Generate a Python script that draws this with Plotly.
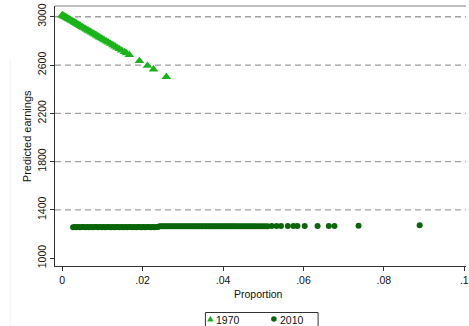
import plotly.graph_objects as go

# Predicted earnings against occupational proportion, two census years
years = ["1970", "2010"]

prop_1970 = [0.0000, 0.0002, 0.0004, 0.0006, 0.0008, 0.0010, 0.0012, 0.0014, 0.0016, 0.0018,
             0.0021, 0.0024, 0.0027, 0.0030, 0.0033, 0.0036, 0.0039, 0.0042, 0.0045, 0.0049,
             0.0053, 0.0057, 0.0061, 0.0065, 0.0069, 0.0073, 0.0077, 0.0081, 0.0085, 0.0089,
             0.0093, 0.0097, 0.0101, 0.0105, 0.0110, 0.0115, 0.0120, 0.0126, 0.0131, 0.0136,
             0.0142, 0.0148, 0.0155, 0.0160, 0.0167, 0.0192, 0.0212, 0.0227, 0.0259]
earn_1970 = [3014, 3010, 3006, 3002, 2998, 2994, 2990, 2986, 2982, 2978,
             2972, 2967, 2961, 2955, 2949, 2943, 2937, 2931, 2925, 2917,
             2909, 2901, 2893, 2885, 2878, 2870, 2862, 2854, 2846, 2838,
             2830, 2822, 2814, 2806, 2797, 2787, 2777, 2765, 2755, 2745,
             2733, 2721, 2708, 2698, 2684, 2634, 2595, 2565, 2502]

prop_2010 = [0.0027, 0.0031, 0.0035, 0.0040, 0.0044, 0.0049, 0.0053, 0.0058, 0.0062, 0.0067,
             0.0071, 0.0076, 0.0080, 0.0085, 0.0089, 0.0094, 0.0098, 0.0103, 0.0107, 0.0112,
             0.0116, 0.0121, 0.0125, 0.0130, 0.0134, 0.0139, 0.0143, 0.0148, 0.0152, 0.0157,
             0.0161, 0.0166, 0.0170, 0.0175, 0.0179, 0.0184, 0.0188, 0.0193, 0.0197, 0.0202,
             0.0206, 0.0211, 0.0215, 0.0220, 0.0224, 0.0229, 0.0233, 0.0238,
             0.0242, 0.0247, 0.0251, 0.0256, 0.0260, 0.0265, 0.0269, 0.0274, 0.0278, 0.0283,
             0.0287, 0.0292, 0.0296, 0.0301, 0.0305, 0.0310, 0.0314, 0.0319, 0.0323, 0.0328,
             0.0332, 0.0337, 0.0341, 0.0346, 0.0350, 0.0355, 0.0359, 0.0364, 0.0368, 0.0373,
             0.0377, 0.0382, 0.0386, 0.0391, 0.0395, 0.0400, 0.0404, 0.0409, 0.0413, 0.0418,
             0.0422, 0.0427, 0.0431, 0.0436, 0.0441, 0.0446, 0.0451, 0.0456, 0.0461, 0.0466,
             0.0471, 0.0476, 0.0481, 0.0487, 0.0493, 0.0499, 0.0505, 0.0511,
             0.0521, 0.0533, 0.0544, 0.0561, 0.0575, 0.0585, 0.0603, 0.0635, 0.0663, 0.0677,
             0.0737, 0.0889]
earn_2010 = [1257, 1258, 1257, 1258, 1257, 1258, 1258, 1257, 1258, 1257,
             1258, 1257, 1258, 1258, 1257, 1258, 1257, 1258, 1257, 1258,
             1258, 1257, 1258, 1257, 1258, 1258, 1257, 1258, 1257, 1258,
             1257, 1258, 1258, 1257, 1258, 1257, 1258, 1258, 1257, 1258,
             1257, 1258, 1258, 1257, 1258, 1257, 1258, 1258,
             1265, 1264, 1265, 1265, 1264, 1265, 1265, 1264, 1265, 1265,
             1264, 1265, 1265, 1264, 1265, 1265, 1264, 1265, 1265, 1264,
             1265, 1265, 1264, 1265, 1265, 1264, 1265, 1265, 1264, 1265,
             1265, 1264, 1265, 1265, 1264, 1265, 1265, 1264, 1265, 1265,
             1264, 1265, 1265, 1264, 1265, 1265, 1264, 1265, 1265, 1264,
             1265, 1265, 1264, 1265, 1265, 1265, 1265, 1265,
             1266, 1266, 1266, 1266, 1266, 1266, 1266, 1267, 1267, 1267,
             1268, 1273]

x_ticks = [0, 0.02, 0.04, 0.06, 0.08, 0.1]
x_tick_text = ["0", ".02", ".04", ".06", ".08", ".1"]
y_ticks = [1000, 1400, 1800, 2200, 2600, 3000]
grid_vals = y_ticks[1:]

c1970 = "#19b419"
c2010 = "#0a650a"
font = "Liberation Sans, Arial, Helvetica, sans-serif"

fig = go.Figure()
fig.add_trace(go.Scatter(
    x=prop_1970, y=earn_1970, mode="markers", name=years[0],
    marker=dict(symbol="triangle-up", size=8.5, color=c1970, line=dict(width=0)),
    cliponaxis=False,
))
fig.add_trace(go.Scatter(
    x=prop_2010, y=earn_2010, mode="markers", name=years[1],
    marker=dict(symbol="circle", size=6, color=c2010, line=dict(width=0)),
    cliponaxis=False,
))

# plot-area geometry in pixels (used for the hand-built legend box)
W, H = 469, 326
ML, MT, MB = 55, 6, 60
PW, PH = W - ML, H - MT - MB


def px_x(p):
    return (p - ML) / PW


def px_y(p):
    return (H - MB - p) / PH


shapes = []
for v in grid_vals:
    shapes.append(dict(type="line", xref="paper", yref="y", x0=0, x1=1, y0=v, y1=v,
                       line=dict(color="#a0a0a0", width=1.3, dash="6px,4px"), layer="below"))
# top border of the plot region
shapes.append(dict(type="line", xref="paper", yref="paper", x0=0, x1=1, y0=1, y1=1,
                   line=dict(color="#aaaaaa", width=1.6)))
# faint outer graph-region edge
shapes.append(dict(type="line", xref="paper", yref="paper", x0=px_x(10), x1=px_x(10),
                   y0=px_y(60), y1=px_y(330), line=dict(color="#f3f3f3", width=1)))

# legend box
shapes.append(dict(type="rect", xref="paper", yref="paper",
                   x0=px_x(206.5), x1=px_x(320), y0=px_y(312.5), y1=px_y(334),
                   line=dict(color="#333333", width=1), fillcolor="white"))
# legend keys
tx, ty = 211.5, 319
shapes.append(dict(type="path", xref="paper", yref="paper",
                   path=f"M {px_x(tx-3.3)},{px_y(ty+2.5)} L {px_x(tx+3.3)},{px_y(ty+2.5)} "
                        f"L {px_x(tx)},{px_y(ty-3.3)} Z",
                   fillcolor=c1970, line=dict(width=0)))
cx, cy = 275.5, 319
shapes.append(dict(type="circle", xref="paper", yref="paper",
                   x0=px_x(cx-2.8), x1=px_x(cx+2.8), y0=px_y(cy+2.8), y1=px_y(cy-2.8),
                   fillcolor=c2010, line=dict(width=0)))

annotations = [
    dict(text=years[0], xref="paper", yref="paper", x=px_x(215), y=px_y(319.5),
         xanchor="left", yanchor="middle", showarrow=False, font=dict(size=10.5, color="#111")),
    dict(text=years[1], xref="paper", yref="paper", x=px_x(280), y=px_y(319.5),
         xanchor="left", yanchor="middle", showarrow=False, font=dict(size=10.5, color="#111")),
    dict(text="Proportion", xref="paper", yref="paper", x=px_x(260), y=px_y(294),
         xanchor="center", yanchor="middle", showarrow=False, font=dict(size=10.5, color="#111")),
    dict(text="Predicted earnings", xref="paper", yref="paper", x=px_x(27), y=0.5,
         xanchor="center", yanchor="middle", textangle=-90, showarrow=False,
         font=dict(size=11, color="#111")),
]

fig.update_layout(
    width=W, height=H,
    margin=dict(l=ML, r=0, t=MT, b=MB, pad=0),
    paper_bgcolor="white", plot_bgcolor="white",
    font=dict(family=font, size=10.5, color="#111"),
    showlegend=False,
    shapes=shapes,
    annotations=annotations,
    xaxis=dict(range=[-0.0018, 0.10042], tickvals=x_ticks, ticktext=x_tick_text,
               showgrid=False, zeroline=False, showline=True, linecolor="#333", linewidth=1.3,
               ticks="outside", ticklen=4, tickcolor="#333", tickwidth=1,
               ticklabeloverflow="allow", tickfont=dict(size=10.5)),
    yaxis=dict(range=[935, 3089], tickvals=y_ticks, tickangle=-90,
               showgrid=False, zeroline=False, showline=True, linecolor="#333", linewidth=1.3,
               ticks="outside", ticklen=4, tickcolor="#333", tickwidth=1,
               tickfont=dict(size=10.5)),
)

fig.write_html("out.html")
